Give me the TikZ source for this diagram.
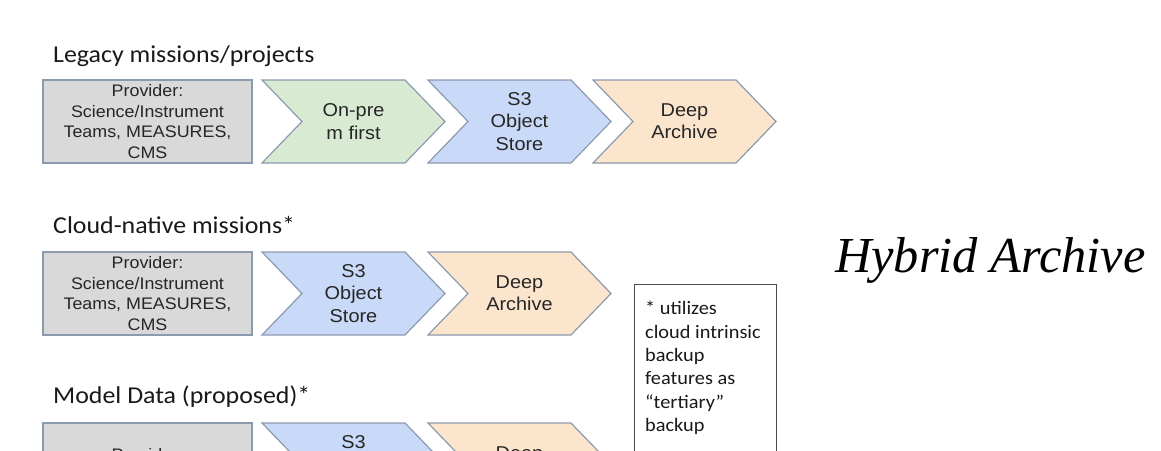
\documentclass[tikz,border=0pt]{standalone}
\usepackage{fontspec}
\setmainfont{Liberation Sans}
\newfontfamily\arialf{Liberation Sans}[FakeStretch=1.07]
\newfontfamily\calf{Carlito}[FakeStretch=1.07]
\newfontfamily\timesf{Liberation Serif}
\definecolor{provgray}{HTML}{D9D9D9}
\definecolor{shpgreen}{HTML}{D9EAD3}
\definecolor{shpblue}{HTML}{C9DAF8}
\definecolor{shporange}{HTML}{FCE5CD}
\definecolor{edgecol}{HTML}{8C9AAE}
\tikzset{
  shp/.style={draw=edgecol, line width=1.2pt, line join=miter},
  prov/.style={shp, fill=provgray, rectangle, inner sep=0pt, minimum width=209pt, minimum height=83pt,
    align=center, font={\arialf\fontsize{16.7}{20.4}\selectfont}, text=black!85},
  chevtxt/.style={align=center, inner sep=0pt, font={\arialf\fontsize{18.6}{22.2}\selectfont}, text=black!85},
  rowtitle/.style={anchor=base west, inner sep=0pt, font={\calf\fontsize{24.2}{28}\selectfont}, text=black!90},
  notebox/.style={draw=black!70, line width=1pt},
  notetxt/.style={anchor=north west, inner sep=0pt, align=left, font={\calf\fontsize{19}{23.4}\selectfont}, text=black!90},
  bigtitle/.style={anchor=base west, inner sep=0pt, font={\timesf\itshape\fontsize{50.4}{60}\selectfont}}
}
\newcommand\mychev[5]{%
  \draw[shp, fill=#3] (#1,#2) -- ++(143,0) -- ++(40,41.5) -- ++(-40,41.5) -- ++(-143,0) -- ++(40,-41.5) -- cycle;
  \node[chevtxt] (#4) at ({#1+91.5},{#2+41.5}) {#5};}
\begin{document}
\begin{tikzpicture}[x=1pt,y=-1pt]
\useasboundingbox (0,0) rectangle (1161,450);
\clip (0,0) rectangle (1161,450);
\fill[white] (0,0) rectangle (1161,450);

% Row 1
\node[rowtitle] (t1) at (53,62) {Legacy missions/projects};
\node[prov] (p1) at (147.5,121.5) {Provider:\\Science/Instrument\\Teams, MEASURES,\\CMS};
\mychev{262}{80}{shpgreen}{c11}{On-pre\\m first}
\mychev{428}{80}{shpblue}{c12}{S3\\Object\\Store}
\mychev{593}{80}{shporange}{c13}{Deep\\Archive}

% Row 2
\node[rowtitle] (t2) at (53,233) {Cloud-native missions*};
\node[prov] (p2) at (147.5,293.5) {Provider:\\Science/Instrument\\Teams, MEASURES,\\CMS};
\mychev{262}{252}{shpblue}{c21}{S3\\Object\\Store}
\mychev{428}{252}{shporange}{c22}{Deep\\Archive}

% Row 3
\node[rowtitle] (t3) at (53,403) {Model Data (proposed)*};
\node[prov, minimum height=125pt] (p3) at (147.5,485.5) {Provider:\\Science/Instrument\\Teams, MEASURES,\\CMS};
\mychev{262}{423}{shpblue}{c31}{S3\\Object\\Store}
\mychev{428}{423}{shporange}{c32}{Deep\\Archive}

% Note box
\draw[notebox] (634,284) rectangle (776,470);
\node[notetxt] (note) at (645,301) {* utilizes\\cloud intrinsic\\backup\\features as\\“tertiary”\\backup};

% Big title
\node[bigtitle] (hy) at (835,272) {Hybrid Archive};
\end{tikzpicture}
\end{document}
